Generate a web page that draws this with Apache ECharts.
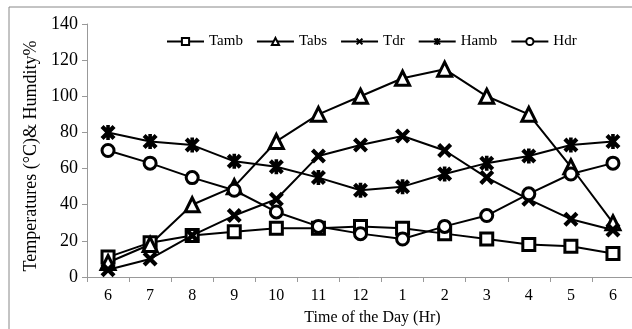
<!DOCTYPE html>
<html>
<head>
<meta charset="utf-8">
<script src="https://cdn.jsdelivr.net/npm/echarts@6/dist/echarts.min.js"></script>
<style>
  html, body { margin: 0; padding: 0; background: #fff; }
  #chart { width: 632px; height: 329px; }
</style>
</head>
<body>
<div id="chart"></div>
<script>
  // time of day
  var hours = ['6', '7', '8', '9', '10', '11', '12', '1', '2', '3', '4', '5', '6'];
  var yTicks = [0, 20, 40, 60, 80, 100, 120, 140];
  var tamb = [11, 19, 23, 25, 27, 27, 28, 27, 24, 21, 18, 17, 13];
  var tabs = [8, 18, 40, 50, 75, 90, 100, 110, 115, 100, 90, 61, 30];
  var tdr = [4, 10, 23, 34, 43, 67, 73, 78, 70, 55, 43, 32, 26];
  var hamb = [80, 75, 73, 64, 61, 55, 48, 50, 57, 63, 67, 73, 75];
  var hdr = [70, 63, 55, 48, 36, 28, 24, 21, 28, 34, 46, 57, 63];

  var font = 'Liberation Serif';
  var xPath = 'path://M0,2 L2,0 L5,3 L8,0 L10,2 L7,5 L10,8 L8,10 L5,7 L2,10 L0,8 L3,5 Z';
  var starPath = 'path://M0,2 L2,0 L5,3 L8,0 L10,2 L7,5 L10,8 L8,10 L5,7 L2,10 L0,8 L3,5 Z M3.8,0 L6.2,0 L6.2,10 L3.8,10 Z';

  function line(name, data, symbol, size, filled) {
    return {
      name: name,
      type: 'line',
      data: data,
      symbol: symbol,
      symbolSize: size,
      showAllSymbol: true,
      lineStyle: { color: '#000', width: 2 },
      itemStyle: filled
        ? { color: '#000', borderWidth: 0 }
        : { color: '#fff', borderColor: '#000', borderWidth: 3 },
      animation: false
    };
  }

  var myChart = echarts.init(document.getElementById('chart'));
  var option = {
    backgroundColor: '#fff',
    graphic: [{
      type: 'rect',
      shape: { x: 9, y: 7, width: 640, height: 340 },
      style: { fill: 'none', stroke: '#888', lineWidth: 1 },
      silent: true
    }],
    legend: {
      left: 161,
      top: 29,
      itemWidth: 37,
      itemHeight: 9,
      itemGap: 13,
      textStyle: { fontFamily: font, fontSize: 15, color: '#000' },
      data: ['Tamb', 'Tabs', 'Tdr', 'Hamb', 'Hdr']
    },
    grid: { left: 87, top: 24, width: 547, height: 253, outerBoundsMode: 'none' },
    xAxis: {
      type: 'category',
      data: hours,
      boundaryGap: true,
      name: 'Time of the Day (Hr)',
      nameLocation: 'middle',
      nameGap: 33,
      nameTextStyle: { fontFamily: font, fontSize: 16, color: '#000', padding: [0, 0, 0, 24] },
      axisLine: { lineStyle: { color: '#999', width: 1 } },
      axisTick: { show: true, alignWithLabel: false, length: 5, lineStyle: { color: '#999' } },
      axisLabel: { fontFamily: font, fontSize: 16, color: '#000', margin: 11 },
      splitLine: { show: false }
    },
    yAxis: {
      type: 'value',
      min: yTicks[0],
      max: yTicks[yTicks.length - 1],
      interval: 20,
      name: 'Temperatures (°C)& Humdity%',
      nameLocation: 'middle',
      nameGap: 36,
      nameTextStyle: { fontFamily: font, fontSize: 18, color: '#000', padding: [0, 11, 0, 0] },
      axisLine: { show: true, lineStyle: { color: '#999', width: 1 } },
      axisTick: { show: true, length: 5, lineStyle: { color: '#999' } },
      axisLabel: { fontFamily: font, fontSize: 18, color: '#000', margin: 9 },
      splitLine: { show: false }
    },
    series: [
      line('Tamb', tamb, 'rect', 12, false),
      line('Tabs', tabs, 'triangle', 14, false),
      line('Tdr', tdr, xPath, 15, true),
      line('Hamb', hamb, starPath, 15, true),
      line('Hdr', hdr, 'circle', 12, false)
    ]
  };
  myChart.setOption(option);
</script>
</body>
</html>
